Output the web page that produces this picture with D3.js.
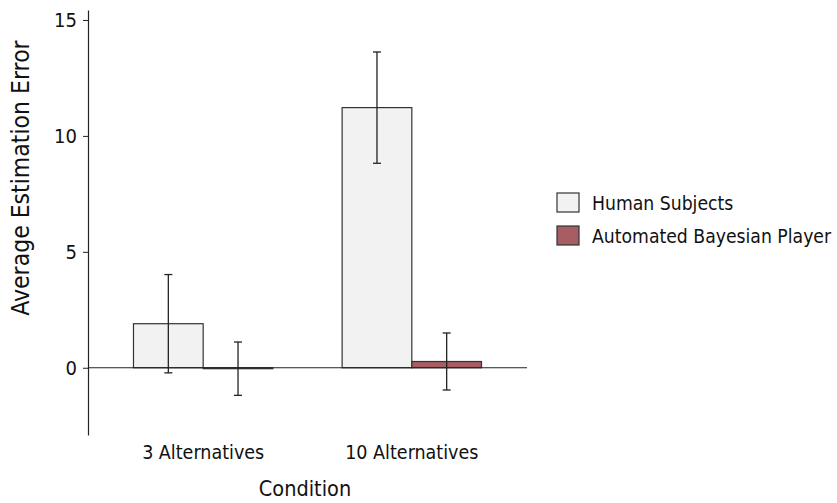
<!DOCTYPE html>
<html>
<head>
<meta charset="utf-8">
<script src="https://cdn.jsdelivr.net/npm/d3@7"></script>
<style>
  body { margin: 0; background: #fff; }
  text { font-family: "DejaVu Sans Condensed", "Liberation Sans Narrow", sans-serif; fill: #111; }
</style>
</head>
<body>
<script>
// data
var conditions = ["3 Alternatives", "10 Alternatives"];
var seriesNames = ["Human Subjects", "Automated Bayesian Player"];
var humanMeans = [1.9, 11.22];
var humanErr = [2.12, 2.4];
var bayesMeans = [-0.04, 0.27];
var bayesErr = [1.15, 1.23];
var yTicks = [0, 5, 10, 15];

var colors = ["#f2f2f2", "#a65e63"];

var W = 837, H = 503;

var svg = d3.select("body").append("svg")
    .attr("width", W)
    .attr("height", H);

// scales
var y = d3.scaleLinear()
    .domain([-2.9, 15.43])
    .range([435, 10]);

var x = d3.scaleBand()
    .domain(conditions)
    .range([88, 527])
    .paddingInner(0.332)
    .paddingOuter(0.218);

var xSub = d3.scaleBand()
    .domain(seriesNames)
    .range([0, x.bandwidth()]);

// build rows for the bars
var rows = [];
conditions.forEach(function (c, i) {
    rows.push({cond: c, series: seriesNames[0], mean: humanMeans[i], err: humanErr[i], color: colors[0]});
    rows.push({cond: c, series: seriesNames[1], mean: bayesMeans[i], err: bayesErr[i], color: colors[1]});
});

// y axis
var yAxis = d3.axisLeft(y)
    .tickValues(yTicks)
    .tickSize(5)
    .tickSizeOuter(0)
    .tickPadding(6);

var gy = svg.append("g")
    .attr("transform", "translate(88,0)")
    .call(yAxis);
gy.select(".domain").attr("stroke", "#222").attr("stroke-width", 1.2);
gy.selectAll(".tick line").attr("stroke", "#222");
gy.selectAll(".tick text")
    .attr("font-size", 20)
    .attr("fill", "#111")
    .style("font-family", "'DejaVu Sans Condensed', sans-serif");

// bars
svg.append("g").selectAll("rect")
    .data(rows)
    .enter()
    .append("rect")
    .attr("x", function (d) { return x(d.cond) + xSub(d.series); })
    .attr("width", xSub.bandwidth())
    .attr("y", function (d) { return y(Math.max(0, d.mean)); })
    .attr("height", function (d) { return Math.abs(y(d.mean) - y(0)); })
    .attr("fill", function (d) { return d.color; })
    .attr("stroke", "#333")
    .attr("stroke-width", 1.2);

// zero line
svg.append("line")
    .attr("x1", 88)
    .attr("x2", 527)
    .attr("y1", y(0))
    .attr("y2", y(0))
    .attr("stroke", "#222")
    .attr("stroke-width", 1.2);

// error bars
var eb = svg.append("g").selectAll("g")
    .data(rows)
    .enter()
    .append("g")
    .attr("transform", function (d) {
        return "translate(" + (x(d.cond) + xSub(d.series) + xSub.bandwidth() / 2) + ",0)";
    });

eb.append("line")
    .attr("y1", function (d) { return y(d.mean + d.err); })
    .attr("y2", function (d) { return y(d.mean - d.err); })
    .attr("stroke", "#222")
    .attr("stroke-width", 1.3);

eb.append("line")
    .attr("x1", -4).attr("x2", 4)
    .attr("y1", function (d) { return y(d.mean + d.err); })
    .attr("y2", function (d) { return y(d.mean + d.err); })
    .attr("stroke", "#222")
    .attr("stroke-width", 1.3);

eb.append("line")
    .attr("x1", -4).attr("x2", 4)
    .attr("y1", function (d) { return y(d.mean - d.err); })
    .attr("y2", function (d) { return y(d.mean - d.err); })
    .attr("stroke", "#222")
    .attr("stroke-width", 1.3);

// category labels
svg.append("g").selectAll("text")
    .data(conditions)
    .enter()
    .append("text")
    .attr("x", function (d) { return x(d) + x.bandwidth() / 2; })
    .attr("y", 459)
    .attr("text-anchor", "middle")
    .attr("font-size", 19.5)
    .text(function (d) { return d; });

// axis titles
svg.append("text")
    .attr("x", 305)
    .attr("y", 496)
    .attr("text-anchor", "middle")
    .attr("font-size", 21.5)
    .text("Condition");

svg.append("text")
    .attr("transform", "translate(29,178) rotate(-90)")
    .attr("text-anchor", "middle")
    .attr("font-size", 24.5)
    .text("Average Estimation Error");

// legend
var legend = svg.append("g").selectAll("g")
    .data(seriesNames)
    .enter()
    .append("g")
    .attr("transform", function (d, i) { return "translate(557," + (193 + i * 33) + ")"; });

legend.append("rect")
    .attr("width", 22)
    .attr("height", 19)
    .attr("fill", function (d, i) { return colors[i]; })
    .attr("stroke", "#333")
    .attr("stroke-width", 1.2);

legend.append("text")
    .attr("x", 35)
    .attr("y", 17)
    .attr("font-size", 19.2)
    .text(function (d) { return d; });
</script>
</body>
</html>
